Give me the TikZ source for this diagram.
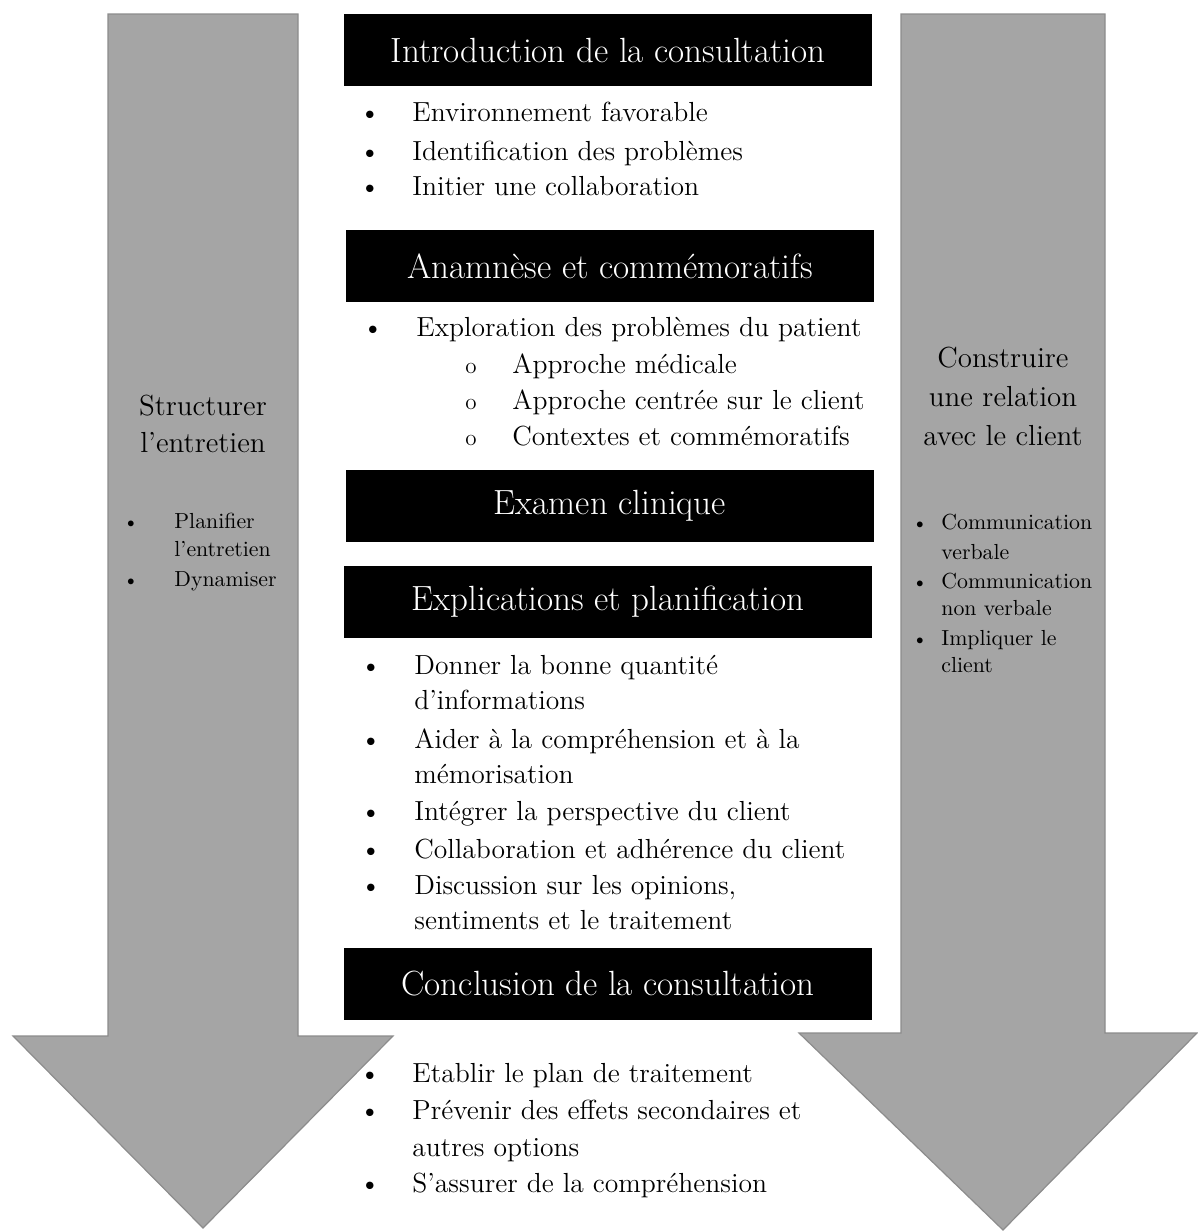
\documentclass[tikz,border=0pt]{standalone}
\usepackage{fontspec}
\definecolor{arrowgray}{RGB}{165,165,165}
\definecolor{arrowline}{RGB}{140,140,140}
\tikzset{
  x=0.5pt, y=-0.5pt, % one unit is one pixel of the layout
  bigarrow/.style={fill=arrowgray, draw=arrowline, line width=0.6pt}, % the two grey arrows
  header/.style={fill=black, text=white, minimum width=264pt, minimum height=36pt,
    inner sep=0pt, font=\fontsize{17.5}{20}\selectfont}, % black title bars
  item/.style={anchor=west, inner sep=0pt, text height=1.6ex, text depth=.4ex, yshift=-1.5pt,
    font=\fontsize{13.8}{16}\selectfont}, % list text in the middle
  dot/.style={item, anchor=center}, % the bullets
  sidehead/.style={inner sep=0pt, font=\fontsize{14.5}{17}\selectfont}, % titles in the arrows
  sideitem/.style={item, font=\fontsize{10.9}{13}\selectfont}, % list text in the arrows
}

\begin{document}
\begin{tikzpicture}
  \useasboundingbox (0,0) rectangle (1198,1232);

  % grey arrows
  \draw[bigarrow] (108,14) -- (298,14) -- (298,1036) -- (393,1036) -- (203,1228)
    -- (13,1036) -- (108,1036) -- cycle;
  \draw[bigarrow] (901,14) -- (1105,14) -- (1105,1033) -- (1197,1033) -- (1003,1230)
    -- (799,1033) -- (901,1033) -- cycle;

  % left arrow text
  \node[sidehead] (struct1) at (203,406) {Structurer};
  \node[sidehead] (struct2) at (203,443) {l'entretien};
  \node[dot, font=\fontsize{10}{12}\selectfont] (sb1) at (131,520) {\textbullet};
  \node[sideitem] (st1) at (174,520) {Planifier};
  \node[sideitem] (st1b) at (174,548) {l'entretien};
  \node[dot, font=\fontsize{10}{12}\selectfont] (sb2) at (131,578) {\textbullet};
  \node[sideitem] (st2) at (174,578) {Dynamiser};

  % right arrow text
  \node[sidehead] (rel1) at (1003,358) {Construire};
  \node[sidehead] (rel2) at (1003,397) {une relation};
  \node[sidehead] (rel3) at (1003,436) {avec le client};
  \foreach \y/\b/\t [count=\i] in {521/1/Communication, 551/0/verbale,
      580/1/Communication, 607/0/non verbale, 637/1/Impliquer le, 664/0/client}{
    \ifnum\b=1 \node[dot, font=\fontsize{10}{12}\selectfont] (rb\i) at (920,\y) {\textbullet}; \fi
    \node[sideitem] (rt\i) at (941,\y) {\t};
  }

  % title bars
  \node[header] (intro) at (608,50) {Introduction de la consultation};
  \node[header] (anam) at (610,266) {Anamnèse et commémoratifs};
  \node[header] (exam) at (610,506) {Examen clinique};
  \node[header] (expl) at (608,602) {Explications et planification};
  \node[header] (concl) at (608,984) {Conclusion de la consultation};

  % introduction
  \foreach \y/\t [count=\i] in {113/Environnement favorable,
      152/Identification des problèmes, 187/Initier une collaboration}{
    \node[dot] (ib\i) at (370,\y) {\textbullet};
    \node[item] (it\i) at (412,\y) {\t};
  }

  % anamnese
  \node[dot] (ab) at (373,328) {\textbullet};
  \node[item] (at) at (416,328) {Exploration des problèmes du patient};
  \foreach \y/\t [count=\i] in {365/Approche médicale,
      401/Approche centrée sur le client, 437/Contextes et commémoratifs}{
    \node[dot, font=\fontsize{11.5}{12}\selectfont] (ao\i) at (471,\y) {o};
    \node[item] (as\i) at (512,\y) {\t};
  }

  % explications
  \foreach \y/\b/\t [count=\i] in {666/1/Donner la bonne quantité, 701/0/d'informations,
      740/1/Aider à la compréhension et à la, 775/0/mémorisation,
      812/1/Intégrer la perspective du client, 850/1/Collaboration et adhérence du client,
      886/1/{Discussion sur les opinions,}, 921/0/sentiments et le traitement}{
    \ifnum\b=1 \node[dot] (eb\i) at (371,\y) {\textbullet}; \fi
    \node[item] (et\i) at (414,\y) {\t};
  }

  % conclusion
  \foreach \y/\b/\t [count=\i] in {1074/1/Etablir le plan de traitement,
      1111/1/Prévenir des effets secondaires et, 1148/0/autres options,
      1184/1/S'assurer de la compréhension}{
    \ifnum\b=1 \node[dot] (cb\i) at (370,\y) {\textbullet}; \fi
    \node[item] (ct\i) at (412,\y) {\t};
  }
\end{tikzpicture}
\end{document}
